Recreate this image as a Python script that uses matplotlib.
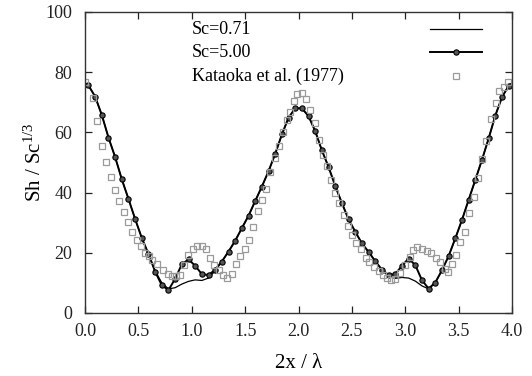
import numpy as np
import matplotlib
matplotlib.use("Agg")
import matplotlib.pyplot as plt

plt.rcParams['font.family'] = ['Liberation Serif', 'DejaVu Serif']
plt.rcParams['mathtext.fontset'] = 'custom'
plt.rcParams['mathtext.rm'] = 'Liberation Serif'
plt.rcParams['mathtext.it'] = 'Liberation Serif:italic'

# -------------------------
# Data
# -------------------------
# simulation grid: end points plus cell centres (k + 0.5) / 16
sim_x = np.concatenate(([0.0], (np.arange(64) + 0.5) / 16, [4.0]))

sc500 = [76.3,
         75.6, 71.9, 65.8, 58.3, 51.8, 44.4, 37.9, 31.2,
         24.9, 19.6, 13.7, 9.2, 7.6, 11.4, 16.2, 17.8,
         15.7, 12.9, 12.6, 14.4, 17.1, 20.4, 24.0, 28.2,
         32.3, 37.2, 42.0, 47.1, 52.9, 59.3, 64.9, 68.0,
         68.0, 65.4, 60.4, 54.0, 48.5, 42.2, 36.5, 31.1,
         27.0, 23.1, 20.3, 17.2, 14.4, 12.6, 12.9, 15.7,
         18.1, 15.9, 10.9, 8.1, 10.1, 14.2, 18.9, 24.8,
         30.9, 37.6, 44.2, 50.9, 58.0, 65.6, 71.7, 75.5,
         76.3]

sc071 = [76.3,
         75.6, 71.9, 65.8, 58.3, 51.8, 44.4, 37.9, 31.2,
         24.9, 19.6, 14.0, 10.0, 8.0, 8.4, 9.6, 10.5,
         11.0, 10.8, 11.6, 14.0, 17.1, 20.4, 24.0, 28.2,
         32.3, 37.2, 42.0, 47.1, 52.9, 59.3, 64.9, 68.0,
         68.0, 65.4, 60.4, 54.0, 48.5, 42.2, 36.5, 31.1,
         27.0, 23.1, 20.3, 17.2, 14.2, 12.2, 11.5, 11.8,
         11.6, 10.6, 9.0, 8.0, 10.1, 14.2, 18.9, 24.8,
         30.9, 37.6, 44.2, 50.9, 58.0, 65.6, 71.7, 75.5,
         76.3]

kat_x = [0.00, 0.077, 0.114, 0.155, 0.196, 0.239, 0.279, 0.319, 0.362, 0.402,
         0.442, 0.485, 0.525, 0.561, 0.595, 0.626, 0.678, 0.733, 0.779, 0.816,
         0.850, 0.887, 0.923, 0.963, 1.009, 1.046, 1.092, 1.132, 1.169, 1.209,
         1.252, 1.291, 1.331, 1.374, 1.414, 1.454, 1.497, 1.537, 1.577, 1.617,
         1.653, 1.696, 1.736, 1.776, 1.816, 1.856, 1.890, 1.920, 1.955, 1.990,
         2.030, 2.071, 2.108, 2.150, 2.190, 2.225, 2.262, 2.302, 2.345, 2.378,
         2.425, 2.462, 2.498, 2.538, 2.585, 2.631, 2.662, 2.708, 2.754, 2.794,
         2.830, 2.868, 2.908, 2.954, 3.000, 3.040, 3.075, 3.114, 3.160, 3.200,
         3.240, 3.286, 3.323, 3.370, 3.400, 3.440, 3.477, 3.517, 3.560, 3.600,
         3.646, 3.685, 3.722, 3.761, 3.800, 3.846, 3.882, 3.921, 3.960]
kat_y = [76.8, 71.4, 63.7, 55.6, 50.1, 45.3, 40.7, 37.2, 33.6, 30.2,
         26.9, 24.4, 22.2, 20.0, 18.8, 17.6, 16.2, 14.4, 12.9, 12.4,
         12.3, 12.6, 15.9, 19.4, 21.1, 22.2, 22.2, 21.1, 18.4, 15.9,
         14.2, 12.6, 11.7, 12.8, 16.2, 18.9, 21.4, 24.4, 28.7, 33.9,
         37.6, 41.1, 47.0, 51.4, 55.5, 60.0, 64.0, 66.9, 70.4, 72.7,
         73.2, 71.2, 67.3, 63.0, 57.5, 52.5, 48.9, 44.2, 39.8, 36.4,
         32.6, 28.9, 25.9, 23.1, 21.1, 18.4, 16.8, 15.3, 14.0, 12.6,
         11.6, 10.9, 11.4, 13.3, 15.8, 18.5, 21.0, 21.8, 21.3, 20.6,
         19.8, 18.4, 16.8, 14.6, 13.5, 16.4, 19.4, 23.7, 27.0, 33.1,
         38.7, 44.8, 51.0, 57.2, 64.4, 69.7, 73.7, 75.2, 76.7]

labels = ['Sc=0.71', 'Sc=5.00', 'Kataoka et al. (1977)']
x_ticks = [0.0, 0.5, 1.0, 1.5, 2.0, 2.5, 3.0, 3.5, 4.0]
y_ticks = [0, 20, 40, 60, 80, 100]

# -------------------------
# Plot
# -------------------------
fig = plt.figure(figsize=(5.32, 3.76), dpi=100)
ax = fig.add_axes([0.16, 0.1676, 0.8024, 0.8005])

l1, = ax.plot(sim_x, sc071, color='black', lw=0.9)
l2, = ax.plot(sim_x, sc500, color='black', lw=1.4, marker='o', ms=3.8,
              mfc='#555555', mec='black', mew=0.8,
              markevery=list(range(1, 65)))
l3, = ax.plot(kat_x, kat_y, ls='none', marker='s', ms=4.5, mfc='none',
              mec='#9a9a9a', mew=0.9)

ax.set_xlim(0, 4)
ax.set_ylim(0, 100)
ax.set_xticks(x_ticks)
ax.set_xticklabels(['%.1f' % t for t in x_ticks])
ax.set_yticks(y_ticks)
ax.tick_params(direction='in', length=5, width=0.9, top=True, right=True,
               labelsize=13, colors='#222222')
ax.tick_params(axis='x', pad=7)
ax.tick_params(axis='y', pad=9)
for s in ax.spines.values():
    s.set_linewidth(1.0)
    s.set_color('#333333')

ax.set_xlabel('2x / λ', fontsize=15, labelpad=10)
ax.set_ylabel('Sh / Sc$^{1/3}$', fontsize=15, labelpad=0)

# gnuplot-style key: sample handles at right, labels left-aligned further left
leg = ax.legend([l1, l2, l3], ['', '', ''], loc='upper right',
                bbox_to_anchor=(0.930, 0.967), frameon=False,
                fontsize=13, handlelength=2.9, handletextpad=0,
                labelspacing=0.38, borderpad=0, borderaxespad=0)

# key texts, baselines under each key row
for s, yb in zip(labels, [0.9269, 0.8505, 0.7724]):
    ax.text(0.2506, yb, s, transform=ax.transAxes, fontsize=13,
            ha='left', va='baseline', color='black')

fig.savefig('out.png', dpi=100)
